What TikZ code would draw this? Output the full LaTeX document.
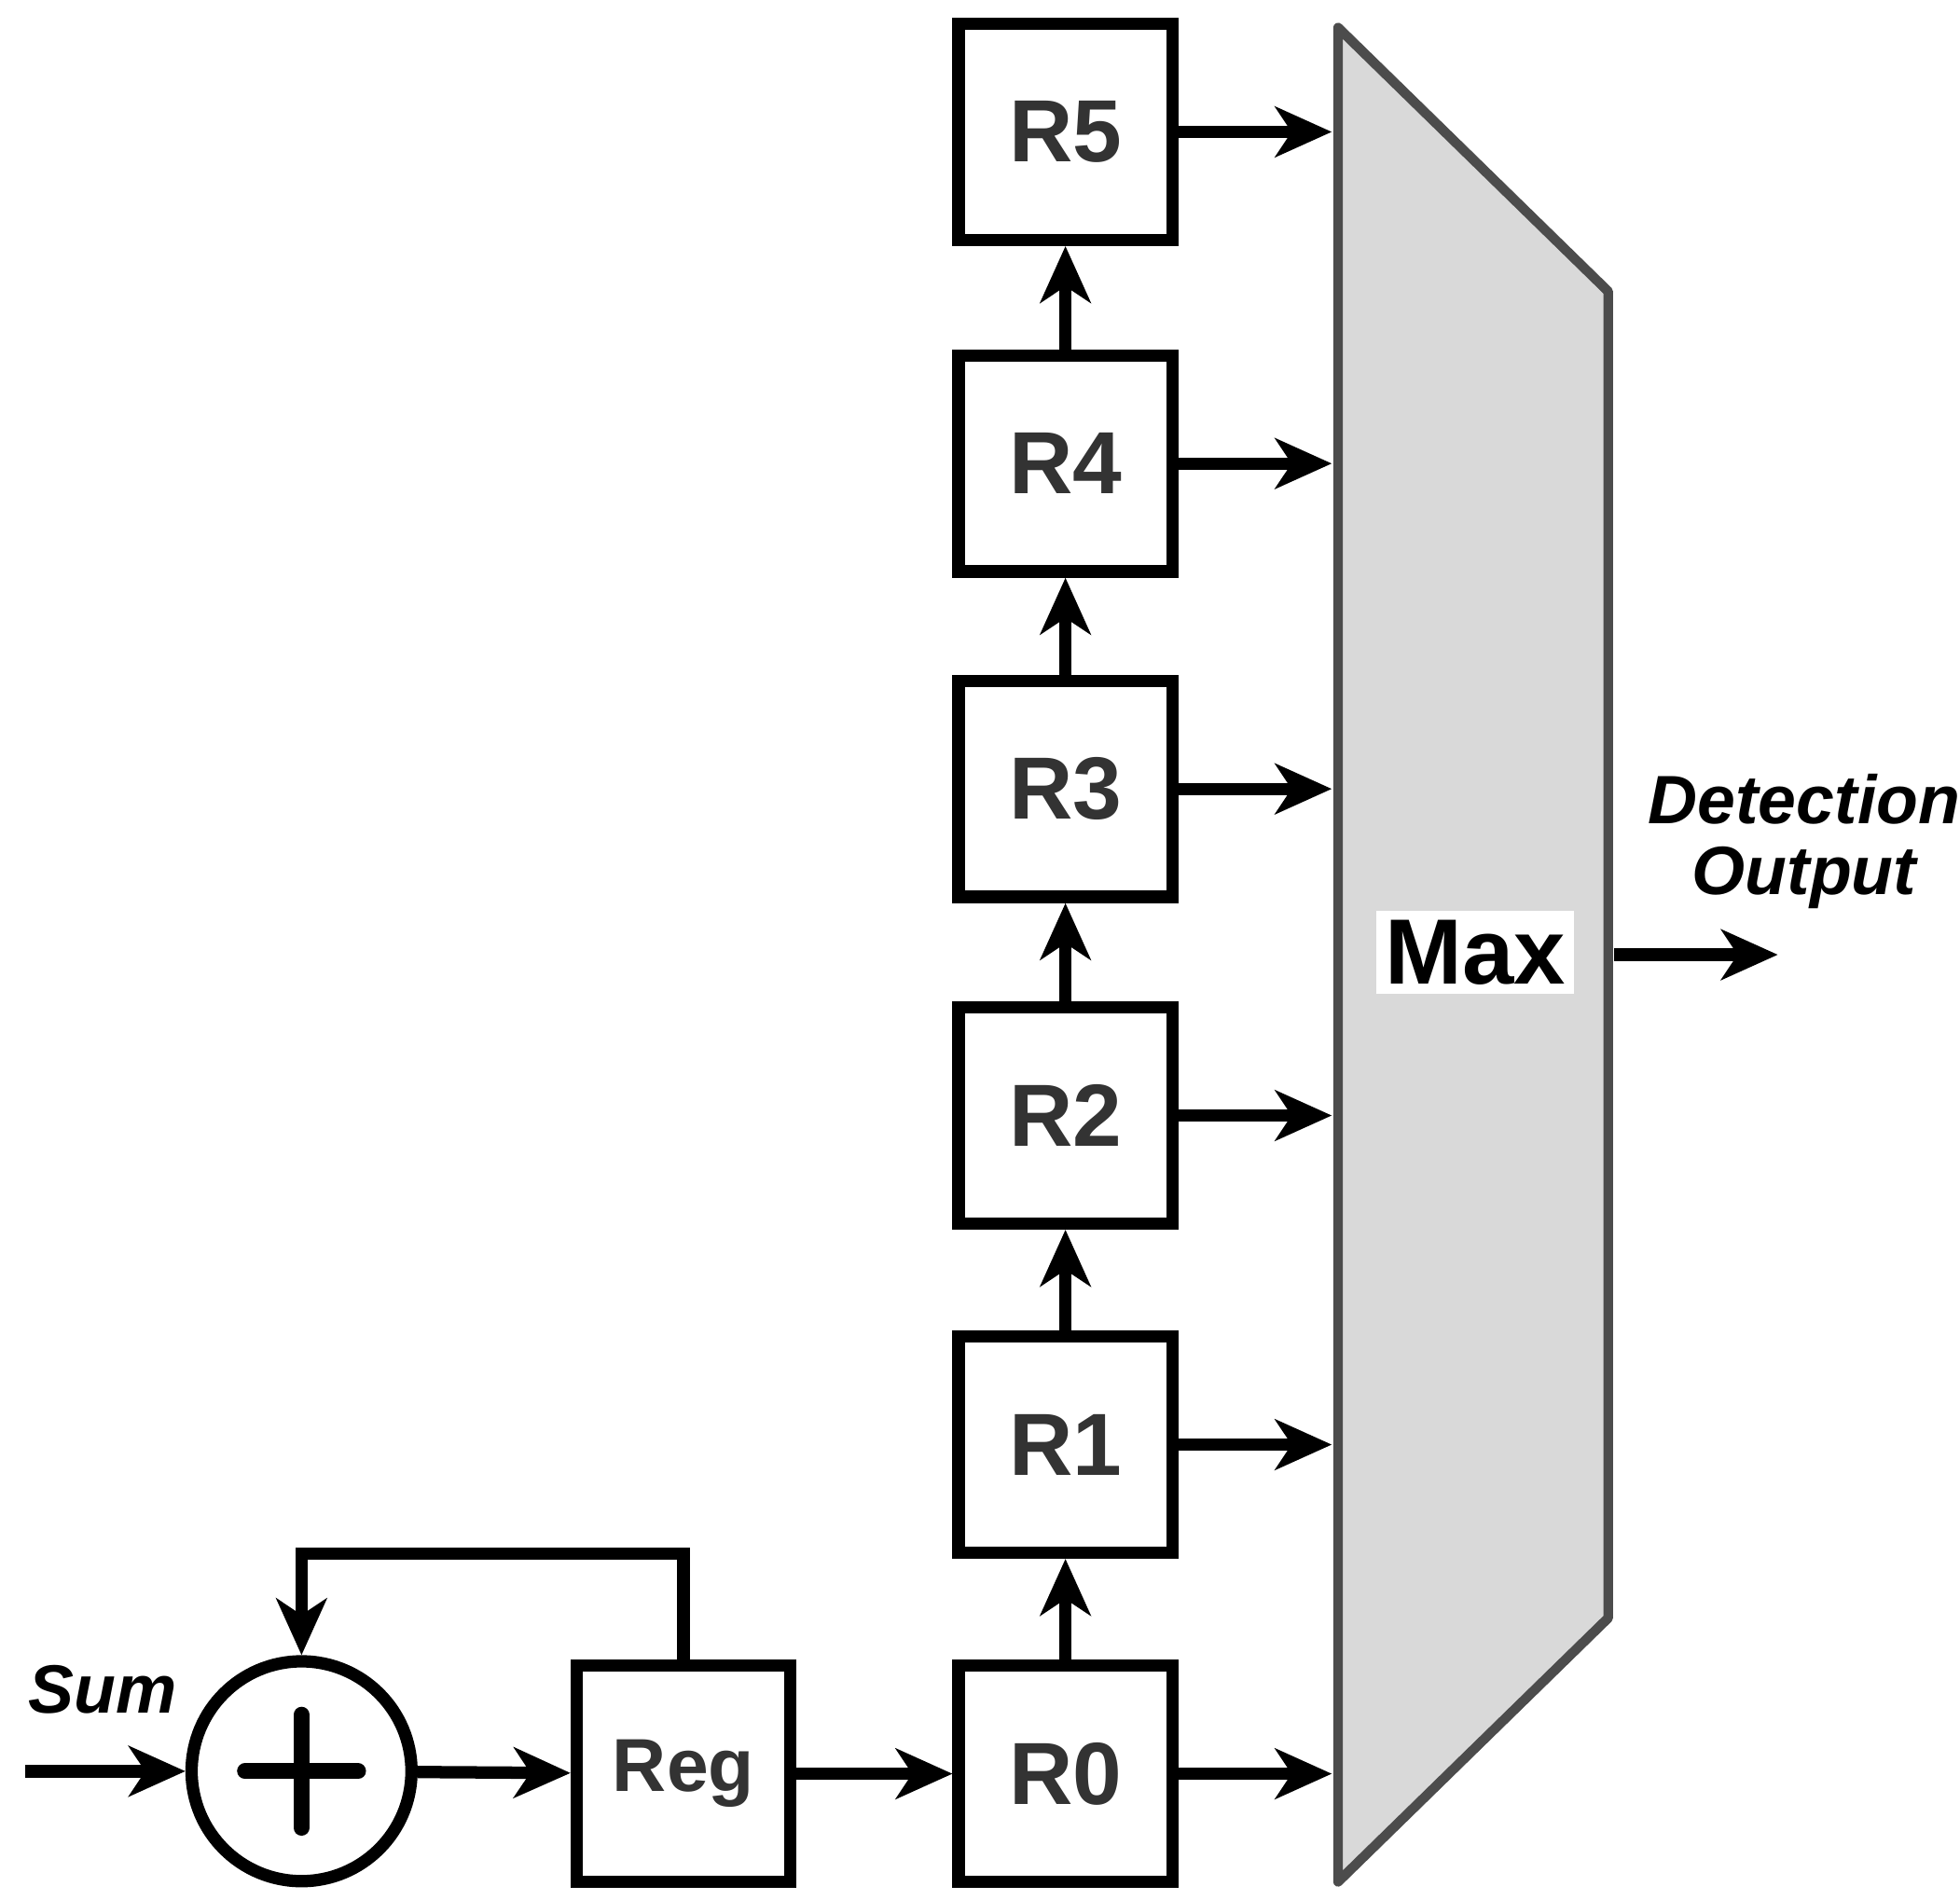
\documentclass[tikz,border=0pt]{standalone}
\usepackage{fontspec}
\setmainfont{Liberation Sans}
\usetikzlibrary{arrows.meta}
\begin{document}
\begin{tikzpicture}[x=0.1mm,y=-0.1mm,
  ln/.style={line width=2.8pt},
  arr/.style={ln,-{Stealth[length=4.5mm,width=4mm,inset=1.3mm]}},
  reg/.style={draw,ln,minimum width=17mm,minimum height=17.2mm,inner sep=0pt,font=\fontsize{20}{20}\bfseries,text=black!80},
  lab/.style={font=\fontsize{15.5}{17}\bfseries\itshape}]
\useasboundingbox (0,0) rectangle (1560,1512);
\foreach \i/\y in {0/1412,1/1150,2/888,3/628,4/369,5/105}{
  \node[reg] (R\i) at (848,\y) {R\i};
  \coordinate (M\i) at (1060,\y);
}
\node[reg,font=\fontsize{17}{17}\bfseries] (Reg) at (544,1412) {Reg};
\node[draw,ln,circle,minimum size=17.5mm] (add) at (240,1410) {};
\draw[line width=3.6pt,line cap=round] (add.center)+(-45,0) -- +(45,0) (add.center)+(0,-45) -- +(0,45);
\filldraw[fill=black!15,draw=black!70,line width=2.2pt,line join=round] (1065,22) -- (1280,232) -- (1280,1288) -- (1065,1498) -- cycle;
\node[fill=white,inner sep=2pt,font=\fontsize{21}{21}\bfseries] (max) at (1174,758) {Max};
\coordinate (in) at (20,1410);
\coordinate (fb) at (240,1237);
\coordinate (outS) at (1285,760);
\coordinate (outE) at (1415,760);
\draw[arr] (in) -- (add);
\draw[arr] (add) -- (Reg);
\draw[arr] (Reg) -- (R0);
\draw[arr] (Reg.north) |- (fb) -- (add.north);
\foreach \i/\j in {0/1,1/2,2/3,3/4,4/5}{\draw[arr] (R\i) -- (R\j);}
\foreach \i in {0,...,5}{\draw[arr] (R\i.east) -- (M\i);}
\draw[arr] (outS) -- (outE);
\node[lab] (sum) at (82,1345) {Sum};
\node[lab,align=center] (det) at (1436,670) {Detection\\[-1pt]Output};
\end{tikzpicture}
\end{document}
